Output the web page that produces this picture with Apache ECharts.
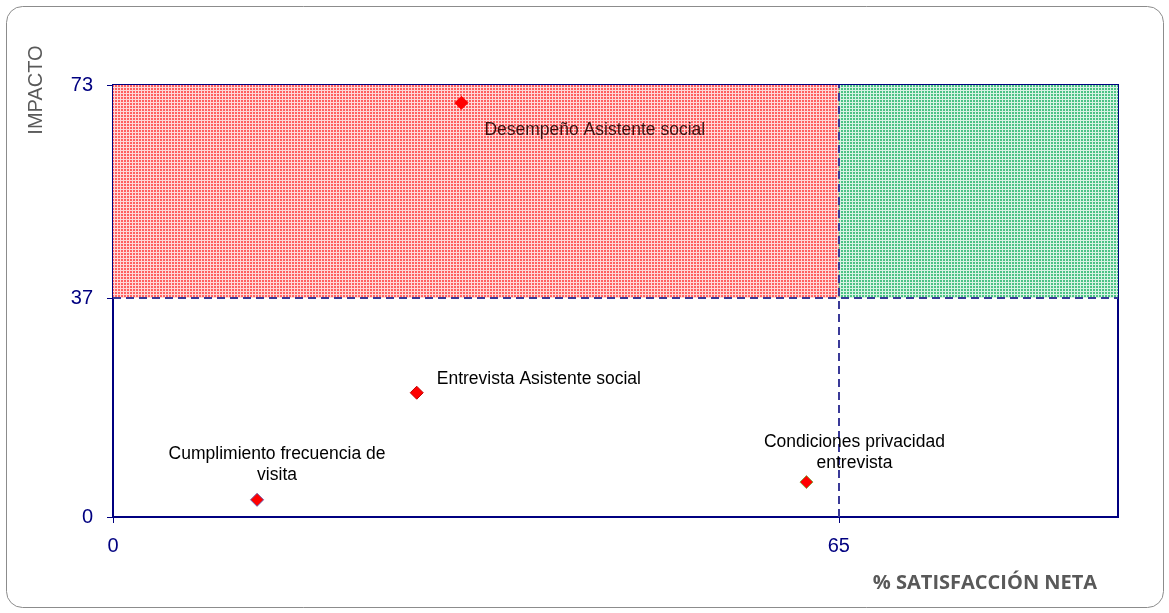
<!DOCTYPE html>
<html><head><meta charset="utf-8">
<script src="https://cdn.jsdelivr.net/npm/echarts@6/dist/echarts.min.js"></script>
<style>html,body{margin:0;padding:0;background:#fff}#c{width:1169px;height:613px}</style>
</head><body><div id="c"></div>
<script>
const nombres = ['Desempeño Asistente social', 'Entrevista Asistente social', 'Cumplimiento frecuencia de\nvisita', 'Condiciones privacidad\nentrevista'];
const satisfaccion = [31.2, 27.2, 12.9, 62.1];
const impacto = [70.0, 21.0, 2.9, 5.9];
const xTicks = [0, 65];
const yTicks = [0, 37, 73];
const xMax = 90, yMax = 73;
const corteX = 65, corteY = 37;

function pattern(dark, light) {
  const c = document.createElement('canvas');
  c.width = 3; c.height = 3;
  const g = c.getContext('2d');
  g.fillStyle = dark; g.fillRect(0, 0, 3, 3);
  g.fillStyle = light; g.fillRect(0, 0, 3, 1); g.fillRect(0, 0, 1, 3);
  return { image: c, repeat: 'repeat' };
}
const redPat = pattern('#ff6060', '#ffd8d8');
const greenPat = pattern('#4cc285', '#d8f3e4');

const labelCfg = [
  { position: [30, 34], align: 'left', verticalAlign: 'middle', color: '#3a1010' },
  { position: [27, -7], align: 'left', verticalAlign: 'middle', color: '#000' },
  { position: [27, -28.5], align: 'center', verticalAlign: 'middle', color: '#000' },
  { position: [55, -22.5], align: 'center', verticalAlign: 'middle', color: '#000' }
];
const borders = ['#ff0000', '#c00000', '#6a50a0', '#8aa040'];

const data = nombres.map((n, i) => ({
  name: n,
  value: [satisfaccion[i], impacto[i]],
  itemStyle: { color: '#ff0000', opacity: 1, borderColor: borders[i], borderWidth: 1 },
  label: Object.assign({ show: true, formatter: n, fontSize: 17.5, lineHeight: 21, fontFamily: 'Liberation Sans, Arial' }, labelCfg[i])
}));

const chart = echarts.init(document.getElementById('c'));
const navy = '#000080';
chart.setOption({
  animation: false,
  grid: { left: 113, top: 85, right: 51, bottom: 96, show: true, borderColor: navy, borderWidth: 2, backgroundColor: 'transparent' },
  xAxis: {
    type: 'value', min: 0, max: xMax,
    splitLine: { show: false },
    axisLine: { lineStyle: { color: navy, width: 2 } },
    axisTick: { show: true, customValues: xTicks, length: 6, lineStyle: { color: navy } },
    axisLabel: { customValues: xTicks, color: navy, fontSize: 20, margin: 19, fontFamily: 'Liberation Sans, Arial' }
  },
  yAxis: {
    type: 'value', min: 0, max: yMax,
    splitLine: { show: false },
    axisLine: { lineStyle: { color: navy, width: 2 } },
    axisTick: { show: true, customValues: yTicks, length: 6, lineStyle: { color: navy } },
    axisLabel: { customValues: yTicks, color: navy, fontSize: 20, margin: 20, fontFamily: 'Liberation Sans, Arial' }
  },
  graphic: [
    { type: 'rect', shape: { x: 6.5, y: 6.5, width: 1157, height: 601, r: 16 }, style: { fill: 'none', stroke: '#8c8c8c', lineWidth: 1 }, z: -1 },
    { type: 'text', x: 36, y: 90, rotation: Math.PI / 2, style: { text: 'IMPACTO', fill: '#595959', font: '20px "Liberation Sans", Arial', align: 'center', verticalAlign: 'middle' } },
    { type: 'text', x: 985, y: 583, style: { text: '% SATISFACCIÓN NETA', fill: '#595959', font: 'bold 20px "Open Sans", Arial', align: 'center', verticalAlign: 'middle' } }
  ],
  series: [{
    type: 'scatter',
    symbol: 'diamond',
    symbolSize: 13,
    data: data,
    z: 5,
    markArea: {
      silent: true,
      data: [
        [{ coord: [0, corteY], itemStyle: { color: redPat, opacity: 1 } }, { coord: [corteX, yMax] }],
        [{ coord: [corteX, corteY], itemStyle: { color: greenPat, opacity: 1 } }, { coord: [xMax, yMax] }]
      ]
    },
    markLine: {
      silent: true,
      symbol: 'none',
      label: { show: false },
      lineStyle: { color: '#3a3a98', type: [8, 5], width: 2 },
      data: [
        [{ coord: [corteX, 0] }, { coord: [corteX, yMax] }],
        [{ coord: [0, corteY] }, { coord: [xMax, corteY] }]
      ]
    }
  }]
});
</script>
</body></html>
